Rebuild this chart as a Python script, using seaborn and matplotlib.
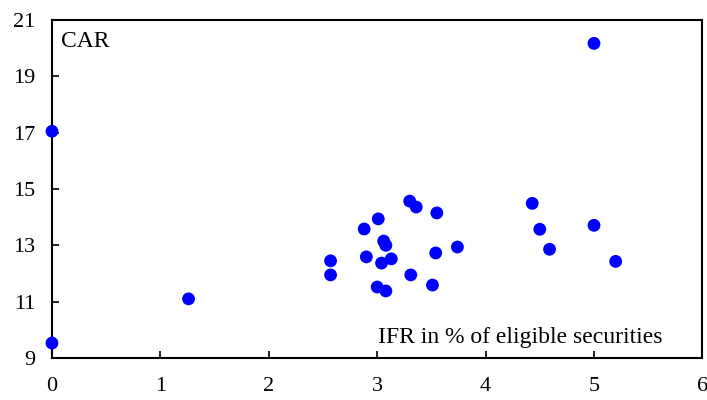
import pandas as pd
import matplotlib
matplotlib.use("Agg")
import matplotlib.pyplot as plt
import seaborn as sns

# IFR in % of eligible securities (x) vs CAR (y)
ifr = [0.0, 0.0, 1.26, 2.57, 2.57, 2.88, 2.90, 3.01, 3.00, 3.06, 3.08, 3.04,
       3.13, 3.08, 3.30, 3.36, 3.31, 3.55, 3.54, 3.51, 3.74, 4.43, 4.50, 4.59,
       5.00, 5.00, 5.20]
car = [17.05, 9.53, 11.1, 12.45, 11.95, 13.58, 12.59, 13.94, 11.52, 13.15, 13.0, 12.37,
       12.52, 11.38, 14.57, 14.36, 11.95, 14.15, 12.73, 11.59, 12.94, 14.49, 13.57, 12.86,
       20.17, 13.71, 12.43]

df = pd.DataFrame({'IFR': ifr, 'CAR': car})

sns.set_style('white')
plt.rcParams['font.family'] = ['Liberation Serif', 'DejaVu Serif']
plt.rcParams['text.color'] = 'black'

fig = plt.figure(figsize=(7.07, 4.0), dpi=100)
ax = fig.add_axes([0.0735, 0.105, 0.92, 0.845])

sns.scatterplot(data=df, x='IFR', y='CAR', color='#0000ff', s=85,
                edgecolor='none', ax=ax, clip_on=False, zorder=3)

ax.set_xlim(0, 6)
ax.set_ylim(9, 21)
ax.set_xticks(range(0, 7))
ax.set_yticks(range(9, 22, 2))
ax.set_xlabel('')
ax.set_ylabel('')
ax.tick_params(axis='both', direction='in', length=5, width=1.2, labelsize=16,
               colors='black', labelcolor='black', bottom=True, left=True)
ax.tick_params(axis='x', pad=14)
ax.tick_params(axis='y', pad=12)
for sp in ax.spines.values():
    sp.set_color('black')
    sp.set_linewidth(1.5)

ax.text(0.014, 0.92, 'CAR', transform=ax.transAxes, fontsize=17,
        color='black', ha='left', va='baseline')
ax.text(0.938, 0.044, 'IFR in % of eligible securities', transform=ax.transAxes,
        fontsize=17, color='black', ha='right', va='baseline')

fig.savefig('out.png', dpi=100)
